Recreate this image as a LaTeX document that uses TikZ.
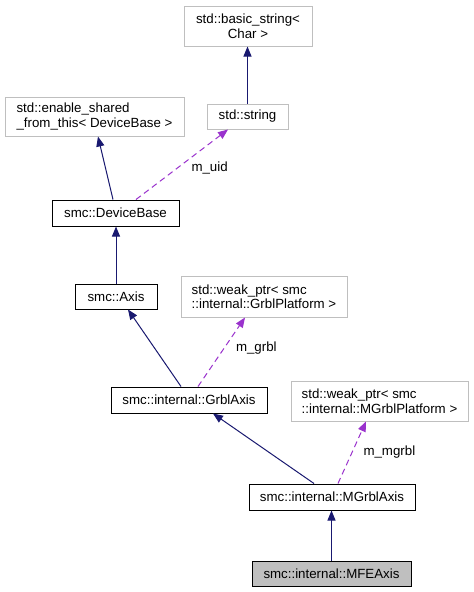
\documentclass[tikz,border=0pt]{standalone}
\usepackage{fontspec}
\setmainfont{Liberation Sans}
\usetikzlibrary{arrows.meta,calc}
\definecolor{edgeblue}{HTML}{191970}
\definecolor{orchid}{HTML}{9A32CD}
\definecolor{grayline}{HTML}{BFBFBF}
\begin{document}
\begin{tikzpicture}[x=1pt,y=-1pt,
  every node/.style={font=\fontsize{13.3}{14.5}\selectfont, inner sep=0pt},
  cls/.style={draw=black, line width=1pt, fill=white},
  ext/.style={draw=grayline, line width=1pt, fill=white},
  cur/.style={draw=black, line width=1pt, fill=grayline},
  inh/.style={draw=edgeblue, line width=1pt, -{Triangle[length=10pt,width=8pt]}},
  use/.style={draw=orchid, line width=1pt, dash pattern=on 6pt off 4pt, -{Triangle[length=10pt,width=8pt,fill=orchid]}},
  lbl/.style={fill=none, anchor=west}]
\useasboundingbox (0,0) rectangle (474,592);
\fill[white] (0,0) rectangle (474,592);
% nodes
\node[ext, minimum width=128, minimum height=40, align=center] (basic) at (248,26) {std::basic\_string<\\Char >};
\node[ext, minimum width=81, minimum height=25] (str) at (247.5,116.5) {std::string};
\node[ext, minimum width=179, minimum height=39, align=left] (enable) at (94.5,116.5) {std::enable\_shared\\\_from\_this< DeviceBase >};
\node[cls, minimum width=127, minimum height=26] (dev) at (115.5,213) {smc::DeviceBase};
\node[cls, minimum width=82, minimum height=25] (axis) at (116,296.5) {smc::Axis};
\node[ext, minimum width=166, minimum height=41, align=left] (weakg) at (264,296.5) {std::weak\_ptr< smc\\::internal::GrblPlatform >};
\node[cls, minimum width=156, minimum height=26] (grbl) at (189,400) {smc::internal::GrblAxis};
\node[ext, minimum width=177, minimum height=40, align=left] (weakm) at (379.5,401) {std::weak\_ptr< smc\\::internal::MGrblPlatform >};
\node[cls, minimum width=166, minimum height=26] (mgrbl) at (332,497) {smc::internal::MGrblAxis};
\node[cur, minimum width=159, minimum height=25] (mfe) at (331.5,573.5) {smc::internal::MFEAxis};
% edges
\draw[inh] (str.north) -- (str.north |- basic.south);
\draw[inh] ($(dev.north)+(-2.5,0)$) -- ($(enable.south)+(3.5,0)$);
\draw[use] ($(dev.north)+(20.5,0)$) -- node[lbl, pos=0.5, xshift=9pt, yshift=-3.5pt] {m\_uid} ($(str.south)+(-19.5,0)$);
\draw[inh] (axis.north) -- (axis.north |- dev.south);
\draw[inh] ($(grbl.north)+(-8,0)$) -- ($(axis.south)+(12,0)$);
\draw[use] ($(grbl.north)+(9,0)$) -- node[lbl, pos=0.5, xshift=14pt, yshift=4pt] {m\_grbl} ($(weakg.south)+(-19,0)$);
\draw[inh] ($(mgrbl.north)+(-18,0)$) -- ($(grbl.south)+(24,0)$);
\draw[use] ($(mgrbl.north)+(6,0)$) -- node[lbl, pos=0.5, xshift=11pt] {m\_mgrbl} ($(weakm.south)+(-13.5,0)$);
\draw[inh] (mfe.north) -- (mfe.north |- mgrbl.south);
\end{tikzpicture}
\end{document}
